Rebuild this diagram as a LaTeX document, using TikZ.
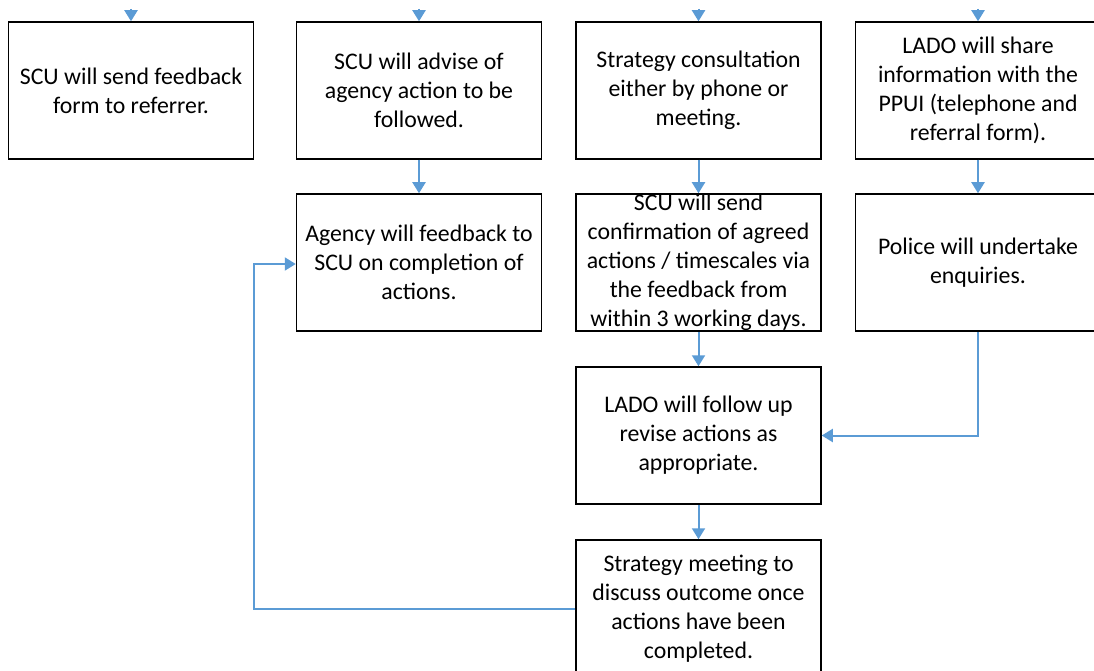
\documentclass[tikz,border=0pt]{standalone}
\usepackage{fontspec}
\setmainfont{Carlito}
\usetikzlibrary{arrows.meta}
\definecolor{arrowblue}{RGB}{91,155,213}
\begin{document}
\begin{tikzpicture}[x=1pt,y=-1pt,
  box/.style={draw=black,line width=1.5pt,minimum width=245pt,minimum height=137pt,inner sep=0pt,align=center,
    font=\fontsize{23.8}{29}\selectfont},
  conn/.style={draw=arrowblue,line width=2pt,-{Triangle[width=13pt,length=11pt]}},
  line/.style={draw=arrowblue,line width=2pt}]
\useasboundingbox (0,0) rectangle (1094,671);
\node[box] (b1) at (131,90.5) {SCU will send feedback\\form to referrer.};
\node[box] (b2) at (419,90.5) {SCU will advise of\\agency action to be\\followed.};
\node[box] (b3) at (698.5,90.5) {Strategy consultation\\either by phone or\\meeting.};
\node[box] (b4) at (978,90.5) {LADO will share\\information with the\\PPUI (telephone and\\referral form).};
\node[box] (b2b) at (419,262.5) {Agency will feedback to\\SCU on completion of\\actions.};
\node[box] (b3b) at (698.5,262.5) {SCU will send\\confirmation of agreed\\actions / timescales via\\the feedback from\\within 3 working days.};
\node[box] (b4b) at (978,262.5) {Police will undertake\\enquiries.};
\node[box] (b5) at (698.5,435.5) {LADO will follow up\\revise actions as\\appropriate.};
\node[box] (b6) at (698.5,608.5) {Strategy meeting to\\discuss outcome once\\actions have been\\completed.};
\coordinate (t1) at (131,9);
\coordinate (t2) at (419,9);
\coordinate (t3) at (698.5,9);
\coordinate (t4) at (978,9);
\draw[conn] (t1) -- (b1.north);
\draw[conn] (t2) -- (b2.north);
\draw[conn] (t3) -- (b3.north);
\draw[conn] (t4) -- (b4.north);
\draw[conn] (b2.south) -- (b2b.north);
\draw[conn] (b3.south) -- (b3b.north);
\draw[conn] (b4.south) -- (b4b.north);
\draw[conn] (b3b.south) -- (b5.north);
\draw[conn] (b5.south) -- (b6.north);
\draw[conn] (b4b.south) |- (b5.east);
\coordinate (c1) at (254,608.5);
\coordinate (c2) at (254,264);
\draw[conn] (b6.west) -- (c1) -- (c2) -- (b2b.west |- c2);
\end{tikzpicture}
\end{document}
